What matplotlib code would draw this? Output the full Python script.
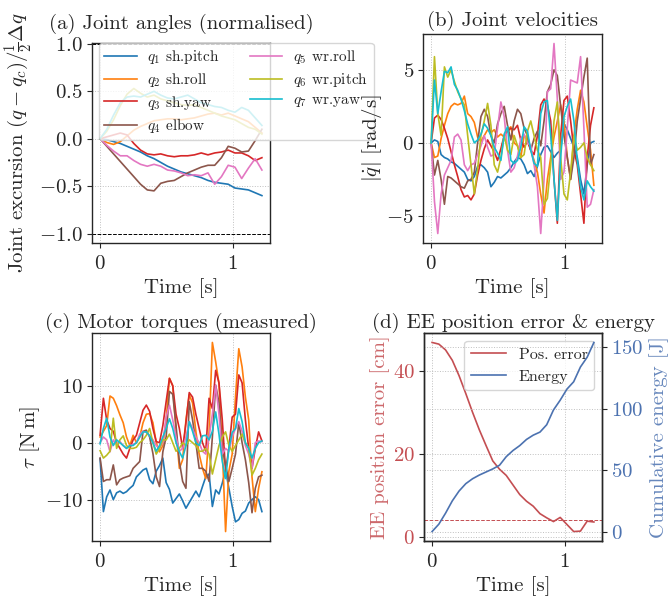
import numpy as np
import matplotlib
matplotlib.use("Agg")
import matplotlib.pyplot as plt

plt.rcParams['font.family'] = 'serif'
plt.rcParams['font.serif'] = ['cmr10']
plt.rcParams['mathtext.fontset'] = 'cm'
plt.rcParams['axes.formatter.use_mathtext'] = True
plt.rcParams['axes.unicode_minus'] = True
plt.rcParams['text.color'] = '#262626'
plt.rcParams['axes.labelcolor'] = '#262626'
plt.rcParams['xtick.color'] = '#262626'
plt.rcParams['ytick.color'] = '#262626'

# ---- data ----
joint_labels = [r'$q_1$ sh.pitch', r'$q_2$ sh.roll', r'$q_3$ sh.yaw', r'$q_4$ elbow',
                r'$q_5$ wr.roll', r'$q_6$ wr.pitch', r'$q_7$ wr.yaw']
joint_colors = ['#1f77b4', '#ff7f0e', '#d62728', '#8c564b', '#e377c2', '#bcbd22', '#17becf']

# (a) normalised joint angles, 25 samples over 0..1.22 s
t_a = np.linspace(0, 1.22, 25)
q1_a = [0, -0.01, -0.03, -0.05, -0.08, -0.11, -0.14, -0.18, -0.21, -0.25, -0.29, -0.32, -0.35,
        -0.37, -0.39, -0.41, -0.44, -0.46, -0.47, -0.48, -0.52, -0.53, -0.54, -0.57, -0.60]
q2_a = [0, -0.04, -0.06, -0.03, 0.03, 0.09, 0.13, 0.16, 0.19, 0.20, 0.21, 0.21, 0.20,
        0.21, 0.22, 0.24, 0.26, 0.27, 0.25, 0.27, 0.24, 0.21, 0.18, 0.12, 0.06]
q3_a = [0, 0.02, 0.04, 0.06, 0.04, -0.05, -0.12, -0.16, -0.17, -0.16, -0.18, -0.19, -0.18,
        -0.18, -0.17, -0.15, -0.17, -0.15, -0.14, -0.12, -0.15, -0.15, -0.18, -0.23, -0.20]
q4_a = [0, -0.08, -0.16, -0.24, -0.32, -0.40, -0.48, -0.54, -0.55, -0.47, -0.45, -0.44, -0.40,
        -0.36, -0.33, -0.30, -0.28, -0.28, -0.20, -0.08, -0.10, -0.14, -0.13, -0.02, 0.10]
q5_a = [0, -0.07, -0.13, -0.18, -0.18, -0.23, -0.27, -0.29, -0.27, -0.29, -0.33, -0.34, -0.36,
        -0.39, -0.38, -0.39, -0.36, -0.48, -0.40, -0.28, -0.30, -0.42, -0.31, -0.21, -0.33]
q6_a = [0, 0.08, 0.20, 0.35, 0.47, 0.53, 0.48, 0.44, 0.46, 0.42, 0.40, 0.38, 0.36,
        0.35, 0.36, 0.33, 0.30, 0.27, 0.24, 0.22, 0.20, 0.16, 0.12, 0.10, 0.05]
q7_a = [0, 0.10, 0.25, 0.38, 0.44, 0.45, 0.44, 0.47, 0.50, 0.46, 0.43, 0.42, 0.44,
        0.46, 0.42, 0.38, 0.36, 0.34, 0.33, 0.30, 0.28, 0.33, 0.30, 0.22, 0.14]

# (b) joint velocities [rad/s], 50 samples
t_b = np.linspace(0, 1.22, 50)
q1_b = [0.0, 0.2, 0.1, -0.8, -1.0, -1.1, -1.3, -1.4, -1.6, -1.8, -2.0, -2.5, -2.6, -2.3, -1.6, -1.5,
        -1.7, -2.0, -3.0, -2.7, -2.3, -2.4, -2.2, -2.0, -1.7, -1.3, -1.0, -1.1, -1.5, -2.1, -1.9, -2.3,
        -1.6, -0.8, -0.3, -0.2, -0.6, -1.0, -0.7, -0.5, 1.3, 0.9, 0.3, -0.3, -1.0, -2.5, -3.5, -1.5, 0.0, 0.1]
q2_b = [0.0, -1.0, -0.9, 0.3, 1.2, 2.0, 2.5, 2.7, 2.6, 2.7, 3.2, 2.0, 1.8, 1.4, 0.4, 0.1,
        0.5, 0.9, 0.7, 0.9, 0.4, 0.6, 0.4, 0.9, 1.1, 0.0, -0.2, -1.0, 0.5, 0.3, -0.5, -1.2,
        -2.0, -3.5, -4.8, -2.5, -1.0, 0.4, 1.5, 2.6, 1.5, -1.0, -2.5, 0.5, 2.3, 3.6, 2.8, 1.1, -0.5, -2.9]
q3_b = [0.0, 1.7, 1.9, 1.6, 1.0, 0.3, -0.6, -1.5, -2.3, -3.2, -3.7, -3.6, -3.9, -3.5, -2.2, -1.2,
        -0.4, 0.2, -0.2, -0.6, -1.2, -0.4, 0.5, 0.8, 1.0, 0.9, 1.2, 0.2, -0.3, 0.1, -0.5, -0.8,
        0.5, 2.6, 3.0, 2.6, 1.5, -2.5, -5.5, 0.5, 2.9, 3.2, 1.5, -0.5, -1.5, -3.5, -5.5, -1.0, 1.2, 2.4]
q4_b = [0.0, -2.2, -1.2, -2.5, -4.2, -2.3, -2.4, -2.6, -2.8, -3.0, -3.1, -2.6, -2.5, -2.0, 0.0, 1.8,
        2.3, 1.8, 0.5, 0.0, 1.3, 2.0, 2.5, 1.2, 0.2, 1.5, 2.3, 2.0, 1.0, 0.5, -0.5, 0.3,
        0.8, -0.2, 1.5, 3.5, 4.0, 5.0, 4.6, 2.5, 0.5, -1.0, -2.5, -1.0, 1.5, 3.0, 4.5, 5.8, -1.5, -0.8]
q5_b = [0.0, -4.0, -6.2, -3.5, -2.2, -1.7, -1.2, 0.4, 0.6, 0.2, -1.5, -1.9, -1.5, -1.4, -0.8, -0.2,
        0.5, -0.3, -0.9, -0.8, 1.0, 2.8, 1.8, -0.5, -2.0, -1.7, -0.9, 0.3, 0.6, 0.0, -0.2, -1.5,
        -3.0, -6.2, -2.5, 3.5, 3.7, 6.8, 3.0, -2.5, -2.0, 1.0, 4.3, 4.2, 4.1, 5.9, 1.0, -4.4, -4.2, -3.2]
q6_b = [0.0, 5.9, 2.0, 0.5, 5.2, 4.5, 5.0, 4.2, 3.5, 3.0, 2.6, 0.5, -1.5, -3.5, -1.8, 0.5,
        1.5, 2.7, 1.2, -1.5, -2.0, -1.0, 0.5, -0.5, -0.8, 0.5, -0.2, -1.0, -0.8, 0.8, 1.5, 0.5,
        -0.5, -1.0, -4.2, -3.8, -1.5, 1.5, 2.8, -1.0, -3.5, -3.9, -2.0, 0.5, -0.5, -0.3, 0.0, -1.0, -1.5, -1.9]
q7_b = [0.0, 4.3, 2.0, 3.5, 4.9, 4.8, 5.2, 4.0, 3.6, 3.0, 2.2, 1.3, 0.6, 0.0, 0.2, 0.6,
        1.3, 1.0, 0.5, -0.3, -0.7, -1.2, 0.6, 1.1, -1.2, -1.4, -1.2, -0.3, 1.1, 0.8, -0.5, -1.4,
        -1.6, 2.0, 2.8, 2.9, 0.5, -2.5, -5.3, -1.0, 1.8, 2.5, 3.0, 1.5, -1.2, -3.0, -3.9, -2.6, -3.0, -3.3]

# (c) measured motor torques [N m], 50 samples
t_c = np.linspace(0, 1.22, 50)
q1_c = [-2.8, -12.1, -9.5, -8.3, -10.0, -8.8, -8.5, -8.9, -8.6, -8.0, -7.5, -6.0, -5.4, -4.8, -4.5, -6.5,
        -7.2, -5.0, -4.0, -2.7, -7.0, -8.2, -10.6, -9.8, -9.0, -10.2, -11.5, -10.5, -9.5, -8.5, -9.5, -7.7,
        -6.0, -5.5, -11.2, -8.3, -9.0, -7.1, -4.8, -8.0, -11.2, -13.9, -13.5, -12.4, -12.0, -10.6, -10.0, -9.5, -10.0, -12.1]
q2_c = [1.0, 2.0, 3.0, 8.2, 7.8, 6.5, 4.9, 3.5, 1.0, -0.5, 1.3, 0.0, 1.0, 3.5, 5.0, 5.1,
        3.5, 0.0, -1.6, -0.5, 4.0, 11.3, 10.0, 2.0, -4.5, -3.0, 4.0, 8.4, 7.0, 2.0, -2.0, -4.5,
        -6.3, 2.0, 17.6, 14.2, 10.4, -1.0, -15.6, -5.0, -2.0, 8.0, 16.5, 13.3, 8.0, 4.0, -6.0, -12.1, -8.0, -5.1]
q3_c = [1.3, 7.8, 4.0, 2.5, 2.0, 0.0, -1.0, -2.0, -2.7, -1.0, 0.5, 1.3, 3.5, 5.7, 6.6, 5.5,
        2.5, 0.2, 0.0, 3.0, 7.2, 11.3, 10.0, 5.0, 2.5, -1.0, 3.5, 8.8, 8.0, 5.0, 2.5, 0.0,
        -1.5, 7.8, 6.0, 12.7, 10.5, 4.0, -5.0, -1.0, 4.5, 5.0, 11.9, 10.5, 4.0, -1.0, -4.5, -1.0, 1.9, 0.3]
q4_c = [-2.7, -6.8, -6.5, -6.5, -3.9, -7.4, -6.5, -6.2, -6.0, -5.8, -4.5, -3.9, -3.3, 2.0, 2.2, 1.0,
        -1.9, -6.0, -7.7, -1.6, 1.0, 9.0, 8.5, 3.0, -3.3, -6.8, -8.0, 7.2, 4.0, 0.0, -4.5, -4.5,
        -5.0, -6.8, 1.0, 10.1, 7.0, -1.0, -3.9, -6.8, -4.5, -2.0, 3.5, 0.0, -3.0, -7.0, -12.3, -8.0, -6.0, -5.7]
q5_c = [0.0, 1.0, 0.5, -1.6, 0.5, -0.3, 0.2, -0.5, -1.0, -0.5, -0.3, 0.0, 1.5, 2.0, 1.8, 1.2,
        0.5, -0.5, -1.0, 0.0, 4.5, 6.6, 4.0, 1.0, -1.5, -1.0, 1.0, 3.7, 2.5, 1.0, 0.0, -1.5,
        -2.0, 1.0, 5.0, 10.1, 5.0, -2.0, -1.0, -1.5, 1.0, 2.5, 3.7, 2.0, -0.5, -2.0, -4.5, 0.0, 0.3, 0.2]
q6_c = [-1.4, -2.7, -2.2, -1.5, 4.3, -1.0, 0.5, 1.2, -0.5, -1.0, -1.0, -0.8, 0.0, 0.5, 1.3, 2.5,
        0.0, -2.0, -1.0, 0.5, 0.5, 1.5, 0.0, -1.5, -1.0, 0.0, -0.5, 0.5, 0.0, -0.5, -1.5, -1.5,
        -1.0, -2.0, -5.5, -3.0, -0.5, 1.0, 1.9, -0.5, -1.5, -0.5, 0.5, 1.5, 0.0, -1.0, -5.7, -4.5, -3.0, -2.0]
q7_c = [-0.2, 2.5, 4.3, 1.0, -0.5, 0.5, 0.0, -0.5, -1.0, -0.5, -0.5, 0.0, 1.0, 1.9, 1.9, 1.2,
        0.0, -1.5, -0.5, 1.0, 2.5, 4.2, 2.5, 0.0, -1.6, -2.7, -0.5, 3.7, 2.0, 0.0, -0.5, 1.2,
        1.3, 0.5, 2.0, 5.4, 1.5, -3.3, -6.3, -1.0, 1.8, 2.5, 6.0, 3.7, 0.0, -1.0, -2.7, -1.0, 0.0, 0.3]

# (d) end-effector error [cm] and cumulative energy [J], 25 samples
t_d = np.linspace(0, 1.22, 25)
pos_err = [46.8, 46.4, 45.0, 42.5, 38.8, 34.5, 30.0, 25.8, 22.0, 18.3, 16.3, 14.8, 12.5,
           10.2, 8.6, 7.4, 5.6, 4.6, 3.7, 4.7, 3.0, 1.3, 1.4, 3.8, 3.6]
energy = [0, 6, 15, 25, 33, 39, 43, 46, 48.5, 51, 54, 61, 66,
          70, 75, 78.5, 81, 87, 99, 107, 116, 122, 134, 142, 154]
err_threshold = 4.0

angles = [q1_a, q2_a, q3_a, q4_a, q5_a, q6_a, q7_a]
vels = [q1_b, q2_b, q3_b, q4_b, q5_b, q6_b, q7_b]
torques = [q1_c, q2_c, q3_c, q4_c, q5_c, q6_c, q7_c]

# ---- figure ----
W, H = 670, 599
fig = plt.figure(figsize=(W / 100, H / 100), dpi=100)


def px_axes(left, right, top, bottom):
    return fig.add_axes([left / W, 1 - bottom / H, (right - left) / W, (bottom - top) / H])


ax_a = px_axes(92, 270, 43, 243)
ax_b = px_axes(423, 602, 34, 243)
ax_c = px_axes(92, 270, 333, 541)
ax_d = px_axes(424, 602, 333, 541)

FS = 15
LW = 1.2

for ax in [ax_a, ax_b, ax_c, ax_d]:
    ax.grid(True, linestyle=':', color='#b0b0b0', linewidth=0.7, alpha=0.8)
    ax.set_axisbelow(True)
    ax.tick_params(labelsize=FS, direction='out', length=3.5, width=0.8, pad=3)
    ax.tick_params(axis='x', pad=5)
    for s in ax.spines.values():
        s.set_linewidth(1.0)
        s.set_color('#262626')
    ax.set_xticks([0, 1])
    ax.set_xlabel('Time [s]', fontsize=FS, labelpad=4)

# (a)
for y, c, lab in zip(angles, joint_colors, joint_labels):
    ax_a.plot(t_a, y, color=c, lw=LW, label=lab)
ax_a.axhline(1.0, color='black', ls='--', lw=0.7)
ax_a.axhline(-1.0, color='black', ls='--', lw=0.7)
ax_a.set_ylim(-1.1, 1.01)
ax_a.set_yticks([-1.0, -0.5, 0.0, 0.5, 1.0])
ax_a.set_title('(a) Joint angles (normalised)', fontsize=FS, pad=10)
ax_a.set_ylabel(r'Joint excursion $(q-q_c)/\frac{1}{2}\Delta q$', fontsize=FS, labelpad=3)
leg = ax_a.legend(ncol=2, loc='upper left', bbox_to_anchor=(0.04, 1.0), borderaxespad=0,
                  fontsize=11, framealpha=0.8, edgecolor='#cccccc', handlelength=2.1,
                  columnspacing=2.0, labelspacing=0.3, handletextpad=0.7, borderpad=0.35)
leg.set_zorder(10)

# (b)
for y, c in zip(vels, joint_colors):
    ax_b.plot(t_b, y, color=c, lw=LW)
ax_b.set_yticks([-5, 0, 5])
ax_b.set_title('(b) Joint velocities', fontsize=FS)
ax_b.set_ylabel(r'$|\dot{q}|$ [rad/s]', fontsize=FS, labelpad=2)

# (c)
for y, c in zip(torques, joint_colors):
    ax_c.plot(t_c, y, color=c, lw=LW)
ax_c.set_yticks([-10, 0, 10])
ax_c.set_title('(c) Motor torques (measured)', fontsize=FS, pad=4)
ax_c.set_ylabel(r'$\tau$ [N$\,$m]', fontsize=FS, labelpad=2)

# (d)
red, blue = '#C44E52', '#4C72B0'
l1, = ax_d.plot(t_d, pos_err, color=red, lw=LW, label='Pos. error')
ax_d.axhline(err_threshold, color=red, ls='--', lw=0.7)
ax_d.set_yticks([0, 20, 40])
ax_d.set_ylabel('EE position error [cm]', fontsize=FS, color=red, alpha=0.85, labelpad=2)
ax_d.tick_params(axis='y', labelcolor=red)
ax_d.set_title('(d) EE position error & energy', fontsize=FS, pad=4)

ax_e = ax_d.twinx()
l2, = ax_e.plot(t_d, energy, color=blue, lw=LW, label='Energy')
ax_e.set_yticks([0, 50, 100, 150])
ax_e.set_ylabel('Cumulative energy [J]', fontsize=FS, color=blue, alpha=0.85, labelpad=4)
ax_e.tick_params(axis='y', labelcolor=blue, labelsize=FS, length=3.5, width=0.8, pad=3)
ax_e.grid(True, linestyle=':', color='#b0b0b0', linewidth=0.7, alpha=0.8)
for s in ax_e.spines.values():
    s.set_linewidth(1.0)
    s.set_color('#262626')
ax_d.legend([l1, l2], ['Pos. error', 'Energy'], loc='upper right', fontsize=11.5,
            framealpha=0.8, edgecolor='#cccccc', handlelength=2.2, handletextpad=0.8)

fig.savefig('out.png', dpi=100)
